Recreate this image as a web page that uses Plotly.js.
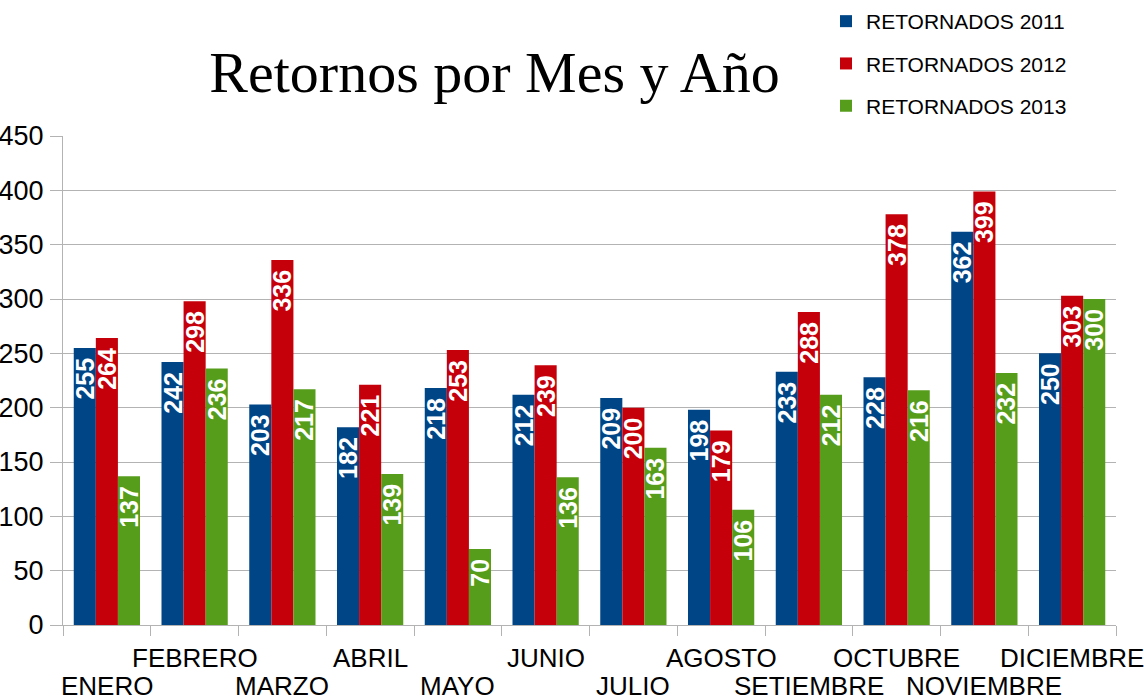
<!DOCTYPE html>
<html>
<head>
<meta charset="utf-8">
<script src="https://cdn.plot.ly/plotly-3.0.1.min.js"></script>
<style>
  html, body { margin: 0; padding: 0; background: #ffffff; }
  #chart { width: 1144px; height: 698px; }
</style>
</head>
<body>
<div id="chart"></div>
<script>
const meses = ["ENERO", "FEBRERO", "MARZO", "ABRIL", "MAYO", "JUNIO", "JULIO", "AGOSTO", "SETIEMBRE", "OCTUBRE", "NOVIEMBRE", "DICIEMBRE"];
const retornados2011 = [255, 242, 203, 182, 218, 212, 209, 198, 233, 228, 362, 250];
const retornados2012 = [264, 298, 336, 221, 253, 239, 200, 179, 288, 378, 399, 303];
const retornados2013 = [137, 236, 217, 139, 70, 136, 163, 106, 212, 216, 232, 300];
const nombresSeries = ["RETORNADOS 2011", "RETORNADOS 2012", "RETORNADOS 2013"];
const colores = ["#004586", "#c5000b", "#579d1c"];
const yTicks = [0, 50, 100, 150, 200, 250, 300, 350, 400, 450];
const titulo = "Retornos por Mes y Año";

const FONT = "Liberation Sans, Arial, sans-serif";

function serie(vals, i) {
  return {
    type: "bar",
    name: nombresSeries[i],
    legendgroup: "g" + i,
    x: meses,
    y: vals,
    marker: { color: colores[i], line: { width: 0 } },
    texttemplate: "%{y}\u00a0",
    textposition: "inside",
    insidetextanchor: "end",
    textangle: -90,
    constraintext: "none",
    textfont: { family: FONT, size: 25, color: "#ffffff", weight: "bold" },
    hoverinfo: "x+y+name"
  };
}

const data = [
  serie(retornados2011, 0),
  serie(retornados2012, 1),
  serie(retornados2013, 2)
];

// staggered month labels as annotations placed on the category axis
const annotations = meses.map((m, i) => ({
  x: m,
  xref: "x",
  yref: "paper",
  y: (i % 2 === 0) ? -0.1247 : -0.0675,
  yanchor: "middle",
  xanchor: "center",
  text: m,
  showarrow: false,
  font: { family: FONT, size: 26, color: "#000000" }
}));

const layout = {
  width: 1144,
  height: 698,
  paper_bgcolor: "#ffffff",
  plot_bgcolor: "#ffffff",
  margin: { l: 63, r: 28, t: 136, b: 73, pad: 0, autoexpand: false },
  title: {
    text: titulo,
    font: { family: "Liberation Serif, Times New Roman, serif", size: 58, color: "#000000" },
    xref: "container",
    yref: "container",
    x: 494.5 / 1144,
    xanchor: "center",
    y: 1 - 72 / 698,
    yanchor: "middle"
  },
  barmode: "group",
  bargap: 0.245,
  bargroupgap: 0,
  showlegend: true,
  legend: {
    xref: "container",
    yref: "container",
    x: 826 / 1144,
    xanchor: "left",
    y: 1 - 1 / 698,
    yanchor: "top",
    traceorder: "grouped",
    tracegroupgap: 12,
    font: { family: FONT, size: 21, color: "#000000" },
    bgcolor: "rgba(0,0,0,0)",
    borderwidth: 0
  },
  xaxis: {
    type: "category",
    categoryorder: "array",
    categoryarray: meses,
    range: [-0.5, 11.5],
    showgrid: false,
    showline: true,
    linecolor: "#b3b3b3",
    linewidth: 1,
    ticks: "outside",
    ticklen: 10,
    tickwidth: 1,
    tickcolor: "#b3b3b3",
    tickson: "boundaries",
    showticklabels: false,
    zeroline: false,
    fixedrange: true
  },
  yaxis: {
    range: [0, 450],
    tickmode: "array",
    tickvals: yTicks,
    ticktext: yTicks.map(String),
    showgrid: true,
    gridcolor: "#b3b3b3",
    gridwidth: 1,
    showline: true,
    linecolor: "#b3b3b3",
    linewidth: 1,
    ticks: "outside",
    ticklen: 12,
    tickwidth: 1,
    tickcolor: "#b3b3b3",
    tickfont: { family: FONT, size: 27, color: "#000000" },
    ticklabelstandoff: 1,
    zeroline: false,
    automargin: false,
    fixedrange: true
  },
  annotations: annotations
};

Plotly.newPlot("chart", data, layout, { displayModeBar: false });
</script>
</body>
</html>
